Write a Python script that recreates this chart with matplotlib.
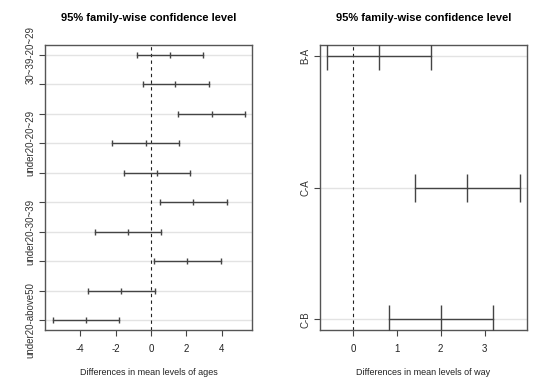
import matplotlib
matplotlib.use("Agg")
import matplotlib.pyplot as plt

plt.rcParams['font.family'] = ['Liberation Sans', 'DejaVu Sans']

# Left panel: ages
age_comp = ["30~39-20~29", "40~49-20~29", "above50-20~29", "under20-20~29",
            "40~49-30~39", "above50-30~39", "under20-30~39",
            "above50-40~49", "under20-40~49", "under20-above50"]
age_diff = [1.06, 1.38, 3.43, -0.30, 0.34, 2.40, -1.32, 2.05, -1.67, -3.69]
age_lwr = [-0.81, -0.47, 1.52, -2.18, -1.52, 0.53, -3.18, 0.19, -3.56, -5.55]
age_upr = [2.92, 3.26, 5.30, 1.57, 2.23, 4.28, 0.55, 3.94, 0.23, -1.82]
age_shown = ["30~39-20~29", "under20-20~29", "under20-30~39", "under20-above50"]
age_xticks = [-4, -2, 0, 2, 4]

# Right panel: way
way_comp = ["B-A", "C-A", "C-B"]
way_diff = [0.60, 2.59, 2.01]
way_lwr = [-0.59, 1.42, 0.81]
way_upr = [1.79, 3.81, 3.19]
way_xticks = [0, 1, 2, 3]

W, H = 550, 387
fig = plt.figure(figsize=(W / 100, H / 100), dpi=100)

def panel(rect, comps, diff, lwr, upr, shown, xticks, xlim, ylim, tick_ms, xlabel):
    ax = fig.add_axes(rect)
    n = len(comps)
    ys = list(range(1, n + 1))
    for y in ys:
        ax.axhline(y, color='#e3e3e3', lw=1, zorder=0)
    ax.axvline(0, color='#222222', lw=0.8, ls=(0, (3, 3)), zorder=1)
    for y, d, l, u in zip(ys, diff, lwr, upr):
        ax.plot([l, u], [y, y], color='#444444', lw=1, zorder=2)
        ax.plot([l, d, u], [y, y, y], ls='none', marker='|', ms=tick_ms,
                mew=1, color='#444444', zorder=3)
    ax.set_xlim(*xlim)
    ax.set_ylim(*ylim)
    ax.set_yticks(ys)
    ax.set_yticklabels([c if c in shown else "" for c in comps],
                       rotation=90, va='center', fontsize=7, color='#333333')
    ax.set_xticks(xticks)
    ax.set_xticklabels([str(t) for t in xticks], fontsize=7, color='#222222')
    ax.tick_params(axis='both', length=4, width=0.8, color='#444444', pad=3)
    ax.tick_params(axis='x', pad=6)
    for s in ax.spines.values():
        s.set_color('#555555')
        s.set_linewidth(1)
    ax.set_xlabel(xlabel, fontsize=6.5, color='#222222', labelpad=10)
    ax.set_title("95% family-wise confidence level", fontsize=8, fontweight='bold', pad=17)
    return ax

panel([45 / W, 57 / H, 207 / W, 285 / H], age_comp, age_diff, age_lwr, age_upr,
      age_shown, age_xticks, (-6.0, 5.72), (10.34, 0.66), 5,
      "Differences in mean levels of ages")
panel([320 / W, 57 / H, 207 / W, 285 / H], way_comp, way_diff, way_lwr, way_upr,
      way_comp, way_xticks, (-0.755, 3.97), (3.08, 0.92), 20,
      "Differences in mean levels of way")

fig.savefig("out.png", dpi=100)
